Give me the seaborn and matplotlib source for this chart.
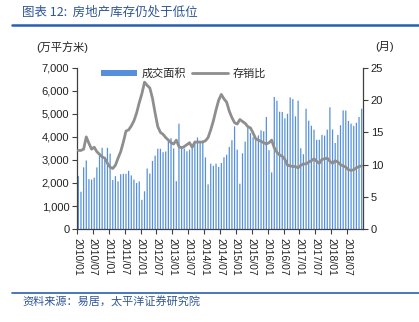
import numpy as np
import pandas as pd
import matplotlib
matplotlib.use("Agg")
import matplotlib.pyplot as plt
import seaborn as sns
from matplotlib.patches import Patch
from matplotlib.lines import Line2D

# ---- data ----
months = [f"{y}/{m:02d}" for y in range(2010, 2019) for m in range(1, 13)]
area = [2300, 1620, 2680, 2980, 2170, 2150, 2230, 2680, 3200, 3530, 3100, 3530,
        3280, 2130, 2300, 2070, 2380, 2400, 2400, 2530, 2330, 2150, 2000, 2070,
        1270, 1640, 2630, 2410, 2960, 3190, 3490, 3490, 3340, 3370, 3800, 3950,
        3500, 2080, 4580, 3600, 3500, 3380, 3450, 3580, 3800, 3980, 3820, 3840,
        3110, 1940, 2840, 2750, 2840, 2700, 2870, 3120, 3230, 3570, 3860, 4460,
        3450, 1970, 3290, 3800, 4390, 4170, 3990, 3960, 4070, 4290, 4250, 4870,
        3430, 2460, 5740, 5580, 5100, 5090, 4810, 5010, 5720, 5650, 4900, 5580,
        3510, 3250, 5230, 4710, 4490, 4320, 3880, 3880, 4090, 4060, 4320, 5290,
        4330, 3740, 4090, 4510, 5160, 5150, 4700, 4580, 4480, 4620, 4870, 5230]
ratio = [12.2, 12.2, 12.4, 14.3, 13.3, 12.4, 12.7, 12.0, 11.6, 11.2, 11.0, 10.2,
         9.6, 9.4, 9.9, 11.0, 12.0, 13.5, 15.2, 15.4, 16.0, 16.8, 18.0, 19.6,
         21.0, 22.8, 22.3, 21.9, 20.3, 18.0, 15.9, 15.0, 14.7, 14.2, 13.8, 13.4,
         13.2, 13.8, 12.8, 12.6, 12.8, 13.1, 13.4, 12.7, 13.5, 13.5, 13.5, 13.5,
         13.7, 14.2, 15.4, 16.8, 18.5, 20.0, 20.9, 20.2, 19.7, 18.3, 17.3, 16.5,
         16.3, 17.0, 16.7, 16.4, 15.9, 15.7, 14.9, 14.0, 13.8, 13.6, 13.4, 13.2,
         13.4, 13.8, 12.6, 11.9, 11.5, 11.3, 10.8, 9.9, 9.8, 9.7, 9.7, 9.5,
         9.9, 10.1, 10.1, 10.4, 10.6, 10.9, 10.5, 10.2, 10.8, 10.9, 11.0, 10.5,
         10.2, 10.6, 10.4, 10.0, 9.8, 9.6, 9.2, 9.1, 9.2, 9.5, 9.7, 9.8]
tick_labels = months[::6]

sns.set_theme(style="white")
plt.rcParams['font.family'] = ['Liberation Sans', 'Noto Sans CJK SC', 'DejaVu Sans']

BLUE = "#5590DC"
GRAY = "#8E8E8E"
TXT = "#222222"
DARK_BLUE = "#2F5597"

fig = plt.figure(figsize=(4.19, 3.22), dpi=100)
ax = fig.add_axes([77/419, 1-229/322, (363-77)/419, (229-68)/322])

df = pd.DataFrame({"month": months, "area": area, "ratio": ratio, "pos": np.arange(len(months))})
sns.barplot(data=df, x="month", y="area", order=months, color=BLUE, width=0.47,
            saturation=1, linewidth=0, ax=ax)
for p in ax.patches:
    p.set_snap(False)
    p.set_antialiased(True)
    p.set_linewidth(0)
ax.set_xlim(-0.5, len(months) - 0.5)
ax.set_ylim(0, 7000)
ax.set_yticks(range(0, 7001, 1000))
ax.set_yticklabels([f"{v:,}" for v in range(0, 7001, 1000)], fontsize=8, color=TXT)
ax.set_xticks([i - 0.5 for i in range(0, len(months), 6)])
ax.set_xticklabels(tick_labels, rotation=-90, fontsize=7.5, color=TXT)
ax.set_xlabel("")
ax.set_ylabel("")

ax2 = ax.twinx()
sns.lineplot(data=df, x="pos", y="ratio", color=GRAY, linewidth=2, ax=ax2)
ax2.set_ylim(0, 25)
ax2.set_yticks(range(0, 26, 5))
ax2.set_yticklabels([str(v) for v in range(0, 26, 5)], fontsize=8, color=TXT)
ax2.set_xlim(-0.5, len(months) - 0.5)
ax2.set_ylabel("")
ax2.set_xlabel("")

for a in (ax, ax2):
    a.spines['top'].set_visible(False)
    for s in ('left', 'right', 'bottom'):
        a.spines[s].set_color("#404040")
        a.spines[s].set_linewidth(0.9)
    a.tick_params(axis='both', which='major', length=3.5, width=0.8,
                  color="#404040", direction='out', pad=2)
    a.grid(False)
ax.spines['right'].set_visible(False)
ax2.spines['left'].set_visible(False)
ax2.spines['bottom'].set_visible(False)
ax.tick_params(axis='y', left=True, right=False)
ax.tick_params(axis='x', bottom=True, pad=3)
ax2.tick_params(axis='y', right=True, left=False)

handles = [Patch(facecolor=BLUE, edgecolor='none'),
           Line2D([0], [0], color=GRAY, linewidth=2)]
ax2.legend(handles, ["成交面积", "存销比"], loc='upper left',
           bbox_to_anchor=(0.05, 1.06), ncol=2, frameon=False,
           handlelength=3.2, handleheight=0.5, columnspacing=0.6, handletextpad=0.4,
           prop={'family': ['Noto Sans CJK SC'], 'size': 8})

fig.text(36/419, 1-47/322, "(万平方米)", fontsize=8, color=TXT, va='center', ha='left',
         family=['Liberation Sans', 'Noto Sans CJK SC'])
fig.text(375/419, 1-47/322, "(月)", fontsize=8, color=TXT, va='center', ha='left',
         family=['Liberation Sans', 'Noto Sans CJK SC'])

fig.text(22/419, 1-12/322, "图表 12:  房地产库存仍处于低位", fontsize=9, color=DARK_BLUE,
         va='center', ha='left', style='italic', family=['Noto Sans CJK SC', 'DejaVu Sans'])
fig.add_artist(Line2D([12/419, 1.0], [1-24.5/322, 1-24.5/322], color="#2860B0", linewidth=1.8,
                      transform=fig.transFigure))
fig.add_artist(Line2D([12/419, 1.0], [1-293/322, 1-293/322], color="#2860B0", linewidth=1.2,
                      transform=fig.transFigure))
fig.text(22/419, 1-302/322, "资料来源：易居，太平洋证券研究院", fontsize=8, color=DARK_BLUE,
         va='center', ha='left', style='italic', family=['Noto Sans CJK SC', 'DejaVu Sans'])

fig.savefig("out.png", dpi=100)
